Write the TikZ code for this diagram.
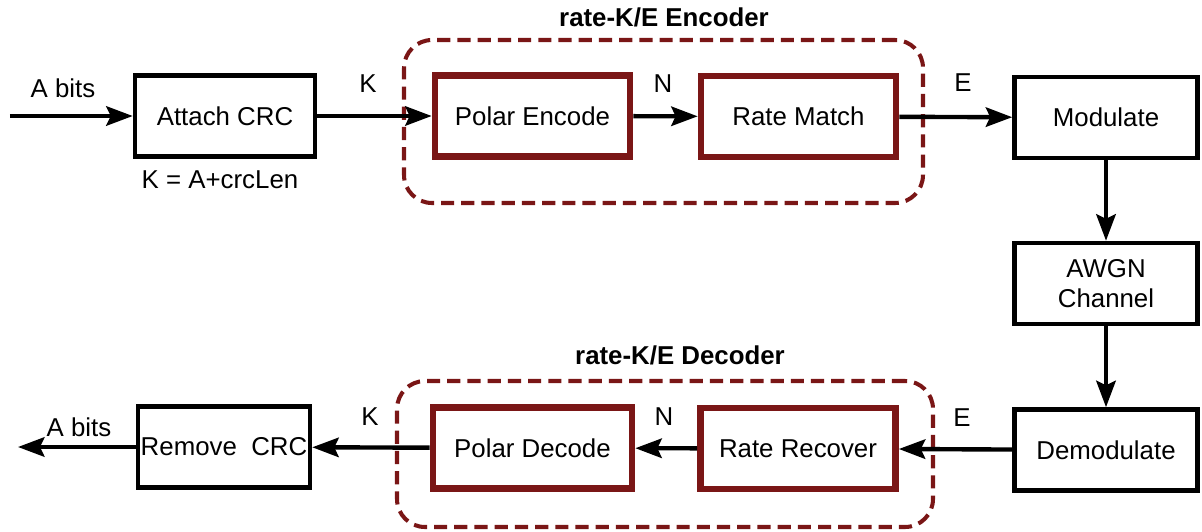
\documentclass[tikz,border=0pt]{standalone}
\usepackage{fontspec}
\setmainfont{Liberation Sans}
\usetikzlibrary{arrows.meta}
\definecolor{darkred}{RGB}{122,22,22}
\begin{document}
\begin{tikzpicture}[
    font=\fontsize{14.7}{17}\selectfont,
    box/.style={rectangle, draw, line width=2.6pt, minimum height=1.62cm, align=center, inner sep=0pt},
    blackbox/.style={box, minimum width=3.6cm},
    redbox/.style={box, draw=darkred, line width=3.8pt, minimum width=3.9cm},
    chanbox/.style={box, minimum width=3.66cm},
    group/.style={rectangle, draw=darkred, line width=2.3pt, dash pattern=on 7.5pt off 4pt, rounded corners=0.56cm},
    title/.style={font=\fontsize{14.7}{17}\selectfont\bfseries},
    arrow/.style={-{Stealth[length=15pt, width=11pt, inset=2.5pt]}, line width=2.5pt}
]
\useasboundingbox (0,0) rectangle (24.04,-10.62);

% Encoder group
\node[group, minimum width=10.38cm, minimum height=3.26cm] (enc) at (13.27,-2.43) {};
\node[title] (enctitle) at (13.28,-0.34) {rate-K/E Encoder};

% Decoder group
\node[group, minimum width=10.72cm, minimum height=2.92cm] (dec) at (13.3,-9.08) {};
\node[title] (dectitle) at (13.6,-7.1) {rate-K/E Decoder};

% Transmit chain
\coordinate (txin) at (0.2,-2.32);
\node[blackbox] (attach) at (4.5,-2.32) {Attach CRC};
\node[redbox] (penc) at (10.65,-2.32) {Polar Encode};
\node[redbox] (rmatch) at (15.97,-2.33) {Rate Match};
\node[chanbox] (mod) at (22.12,-2.35) {Modulate};

% Channel
\node[chanbox] (awgn) at (22.12,-5.67) {AWGN\\Channel};

% Receive chain
\node[chanbox] (demod) at (22.12,-9.0) {Demodulate};
\node[redbox] (rrec) at (15.96,-8.97) {Rate Recover};
\node[redbox, minimum width=3.98cm] (pdec) at (10.65,-8.96) {Polar Decode};
\node[blackbox, minimum width=3.44cm] (remove) at (4.48,-8.94) {Remove~~CRC};
\coordinate (rxout) at (0.36,-8.94);

% Labels
\node (abitsin) at (1.26,-1.76) {A bits};
\node (kin) at (7.36,-1.68) {K};
\node (nin) at (13.26,-1.68) {N};
\node (ein) at (19.26,-1.66) {E};
\node (klen) at (4.4,-3.6) {K = A+crcLen};
\node (abitsout) at (1.58,-8.54) {A bits};
\node (kout) at (7.4,-8.34) {K};
\node (nout) at (13.28,-8.34) {N};
\node (eout) at (19.24,-8.36) {E};

% Connections
\draw[arrow] (txin) -- (attach);
\draw[arrow] (attach) -- (penc);
\draw[arrow] (penc) -- (rmatch);
\draw[arrow] (rmatch) -- (mod);
\draw[arrow] (mod) -- (awgn);
\draw[arrow] (awgn) -- (demod);
\draw[arrow] (demod) -- (rrec);
\draw[arrow] (rrec) -- (pdec);
\draw[arrow] (pdec) -- (remove);
\draw[arrow] (remove) -- (rxout);

\end{tikzpicture}
\end{document}
